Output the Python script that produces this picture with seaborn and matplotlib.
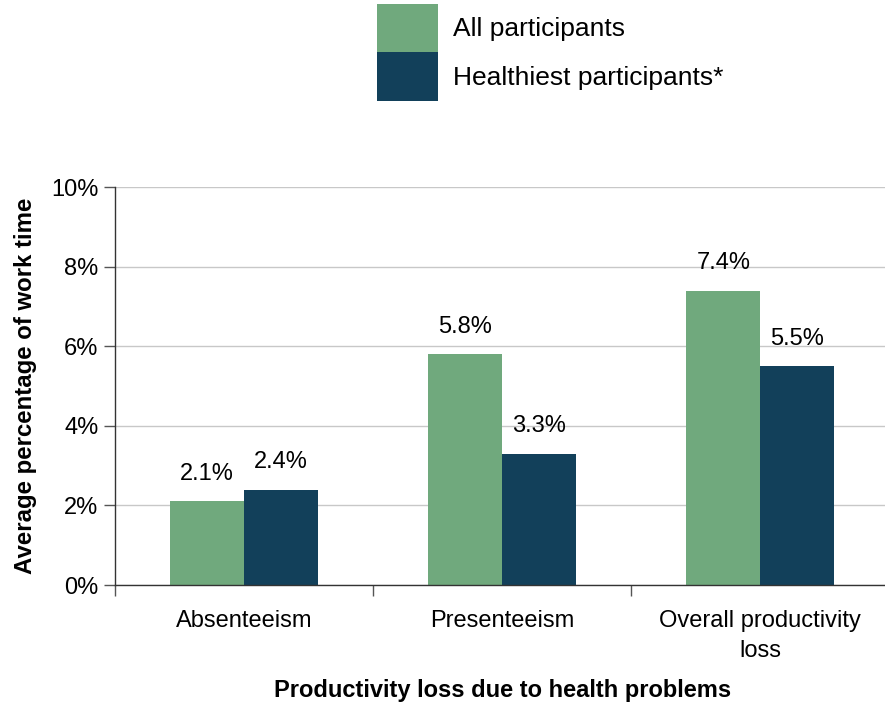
import matplotlib
matplotlib.use("Agg")
import matplotlib.pyplot as plt
import seaborn as sns
import pandas as pd
from matplotlib.ticker import FuncFormatter

categories = ["Absenteeism", "Presenteeism", "Overall productivity\nloss"]
series = ["All participants", "Healthiest participants*"]
all_values = [2.1, 5.8, 7.4]
healthiest_values = [2.4, 3.3, 5.5]
colors = ["#70A97D", "#12405A"]

df = pd.DataFrame({
    "category": categories * 2,
    "group": [series[0]] * 3 + [series[1]] * 3,
    "value": all_values + healthiest_values,
})

sns.set_theme(style="white")
plt.rcParams["font.family"] = ["Liberation Sans", "DejaVu Sans"]
plt.rcParams["text.color"] = "black"
plt.rcParams["axes.labelcolor"] = "black"
plt.rcParams["xtick.color"] = "black"
plt.rcParams["ytick.color"] = "black"

fig = plt.figure(figsize=(8.85, 7.04), dpi=100)
ax = fig.add_axes([0.130, 0.169, 0.875, 0.565])

sns.barplot(data=df, x="category", y="value", hue="group", palette=colors,
            width=0.574, gap=0, saturation=1, linewidth=0, ax=ax, legend=True)

ax.set_xlim(-0.5, 2.5)
ax.set_ylim(0, 10)
ax.set_yticks([0, 2, 4, 6, 8, 10])
ax.yaxis.set_major_formatter(FuncFormatter(lambda v, p: f"{v:.0f}%"))
ax.yaxis.grid(True, color="#C8C8C8", linewidth=1)
ax.set_axisbelow(True)

for c in ax.containers:
    ax.bar_label(c, labels=[f"{v:.1f}%" for v in c.datavalues], padding=12, fontsize=17)

for s in ["top", "right"]:
    ax.spines[s].set_visible(False)
for s in ["left", "bottom"]:
    ax.spines[s].set_color("#333333")
    ax.spines[s].set_linewidth(1)

ax.tick_params(axis="y", which="major", left=True, length=8, width=1, color="#555555",
               labelsize=17, pad=4)
ax.tick_params(axis="x", which="major", bottom=False, labelsize=17, pad=12)
for lbl in ax.get_xticklabels():
    lbl.set_linespacing(1.45)
ax.set_xticks([-0.5, 0.5, 1.5, 2.5], minor=True)
ax.tick_params(axis="x", which="minor", bottom=True, length=8, width=1, color="#555555")

ax.set_xlabel("Productivity loss due to health problems", fontsize=17, fontweight="bold",
              va="center")
ax.xaxis.set_label_coords(0.5, -0.264)
ax.set_ylabel("Average percentage of work time", fontsize=17.3, fontweight="bold", labelpad=10)

handles, labels = ax.get_legend_handles_labels()
ax.legend_.remove()
fig.legend(handles, labels, loc="upper left", bbox_to_anchor=(0.426, 0.995),
           frameon=False, fontsize=19, handlelength=2.31, handleheight=2.46,
           labelspacing=0, handletextpad=0.57, borderpad=0, borderaxespad=0)

fig.savefig("out.png", dpi=100)
